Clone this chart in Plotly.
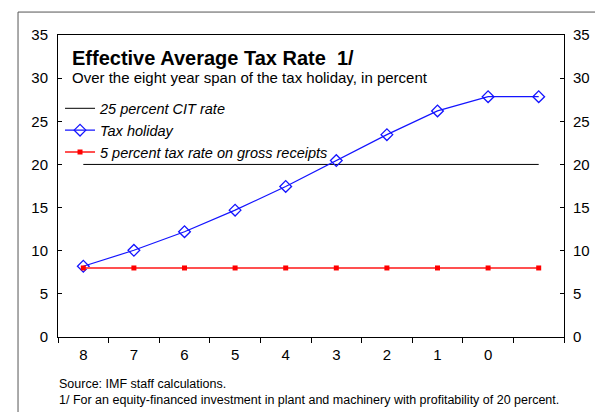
import plotly.graph_objects as go

YEARS = ["8", "7", "6", "5", "4", "3", "2", "1", "0", " "]
CIT_RATE = [20, 20, 20, 20, 20, 20, 20, 20, 20, 20]
TAX_HOLIDAY = [8.2, 10.05, 12.2, 14.7, 17.45, 20.45, 23.45, 26.2, 27.85, 27.85]
GROSS_RECEIPTS = [8.0, 8.0, 8.0, 8.0, 8.0, 8.0, 8.0, 8.0, 8.0, 8.0]
Y_TICKS = [0, 5, 10, 15, 20, 25, 30, 35]

FONT = "Liberation Sans, Arial, sans-serif"

fig = go.Figure()
fig.add_trace(go.Scatter(
    x=YEARS, y=CIT_RATE, mode="lines", name="25 percent CIT rate",
    line=dict(color="black", width=1),
))
fig.add_trace(go.Scatter(
    x=YEARS, y=TAX_HOLIDAY, mode="lines+markers", name="Tax holiday",
    line=dict(color="#1414ff", width=1.2),
    marker=dict(symbol="diamond-open", size=9, color="#1414ff", line=dict(width=1.3)),
))
fig.add_trace(go.Scatter(
    x=YEARS, y=GROSS_RECEIPTS, mode="lines+markers",
    name="5 percent tax rate on gross receipts",
    line=dict(color="#ff5050", width=2),
    marker=dict(symbol="square", size=5, color="#ff0000"),
))
# invisible trace to carry the right-hand axis labels
fig.add_trace(go.Scatter(x=YEARS, y=GROSS_RECEIPTS, yaxis="y2", mode="lines",
                         line=dict(width=0), showlegend=False, hoverinfo="skip"))

tickfont = dict(size=15, color="black", family=FONT)

fig.update_layout(
    width=595, height=412,
    margin=dict(l=58, r=31, t=35, b=75, autoexpand=False),
    plot_bgcolor="white", paper_bgcolor="white",
    font=dict(family=FONT, color="black"),
    xaxis=dict(
        type="category", categoryorder="array", categoryarray=YEARS,
        tickson="boundaries", ticks="outside", ticklen=5, tickcolor="black",
        showgrid=False, showline=True, linecolor="black", linewidth=1, mirror=True,
        tickfont=tickfont, range=[-0.5, 9.5], ticklabelstandoff=4,
        automargin=False,
    ),
    yaxis=dict(
        range=[0, 35], tickvals=Y_TICKS, ticks="inside", ticklen=4, tickcolor="black",
        showgrid=False, zeroline=False, showline=True, linecolor="black", linewidth=1,
        mirror="ticks", tickfont=tickfont, ticklabelstandoff=6, automargin=False,
    ),
    yaxis2=dict(
        range=[0, 35], tickvals=Y_TICKS, ticks="", overlaying="y", side="right",
        showgrid=False, zeroline=False, showline=False, tickfont=tickfont,
        ticklabelstandoff=8, automargin=False,
    ),
    showlegend=True,
    legend=dict(
        x=0.004, y=0.81, xanchor="left", yanchor="top",
        bgcolor="rgba(0,0,0,0)", tracegroupgap=0,
        font=dict(size=14.5, style="italic", color="black"),
        itemwidth=30,
    ),
    annotations=[
        dict(text="<b>Effective Average Tax Rate  1/</b>", x=0.024, y=0.924,
             xref="paper", yref="paper", xanchor="left", yanchor="middle",
             showarrow=False, font=dict(size=20)),
        dict(text="Over the eight year span of the tax holiday, in percent",
             x=0.024, y=0.858, xref="paper", yref="paper", xanchor="left",
             yanchor="middle", showarrow=False, font=dict(size=15)),
        dict(text="Source: IMF staff calculations.<br>1/ For an equity-financed investment in plant and machinery with profitability of 20 percent.",
             x=-0.002, y=-0.125, xref="paper", yref="paper", xanchor="left",
             yanchor="top", align="left", showarrow=False, font=dict(size=12.5)),
    ],
    shapes=[
        dict(type="line", xref="paper", yref="paper", x0=-0.079, x1=1.07,
             y0=1.076, y1=1.076, line=dict(color="#555555", width=1)),
        dict(type="line", xref="paper", yref="paper", x0=-0.079, x1=-0.079,
             y0=1.076, y1=-0.3, line=dict(color="#555555", width=1)),
    ],
)

# the page's default body margin would shift the chart by 8px
fig.write_html("out.html", config={"displayModeBar": False},
               post_script="document.body.style.margin='0';")
